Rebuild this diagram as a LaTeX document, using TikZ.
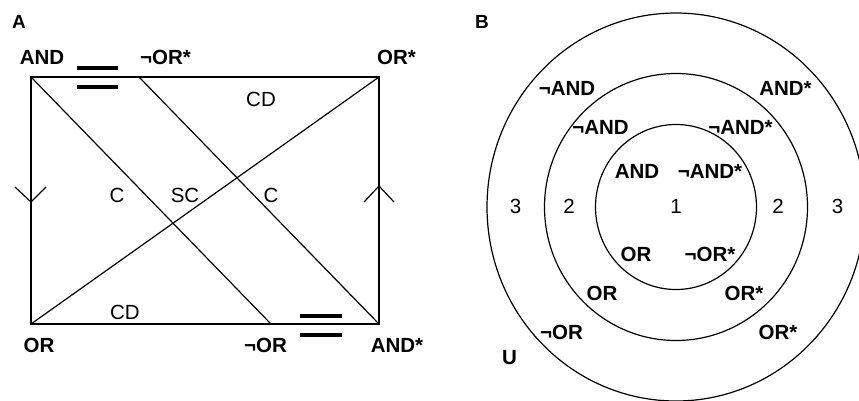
\documentclass[tikz,border=0pt]{standalone}
\usepackage{fontspec}
\setmainfont{Liberation Sans}
\begin{document}
\begin{tikzpicture}[x=1pt,y=-1pt,
  thinline/.style={line width=1.2pt,line cap=round,line join=miter},
  bar/.style={line width=4pt},
  lbl/.style={anchor=base,inner sep=0pt,font=\fontsize{20.5}{24}\selectfont\bfseries},
  rlbl/.style={anchor=base,inner sep=0pt,font=\fontsize{20.5}{24}\selectfont},
  panel/.style={anchor=base,inner sep=0pt,font=\fontsize{19}{22}\selectfont\bfseries}]
\clip (0,0) rectangle (859,400);
\fill[white] (0,0) rectangle (859,400);
% ---------- Panel A ----------
\coordinate (TL) at (31,77);
\coordinate (TR) at (379,77);
\coordinate (BL) at (31,324);
\coordinate (BR) at (379,324);
\coordinate (TM) at (139,77);
\coordinate (BM) at (271,324);
\draw[thinline] (TL) -- (TR) -- (BR) -- (BL) -- cycle;
\draw[thinline] (TL) -- (BM);
\draw[thinline] (TM) -- (BR);
\draw[thinline] (BL) -- (TR);
% direction marks
\coordinate (VL) at (31,202);
\coordinate (VLa) at (15,187);
\coordinate (VLb) at (46,187);
\draw[thinline] (VLa) -- (VL) -- (VLb);
\coordinate (VR) at (379,186);
\coordinate (VRa) at (364,202);
\coordinate (VRb) at (394,202);
\draw[thinline] (VRa) -- (VR) -- (VRb);
% equality bars
\coordinate (b1a) at (77,68.3);  \coordinate (b1b) at (118.3,68.3);
\coordinate (b2a) at (77,86.7);  \coordinate (b2b) at (118.3,86.7);
\draw[bar] (b1a) -- (b1b);
\draw[bar] (b2a) -- (b2b);
\coordinate (b3a) at (300,316.3); \coordinate (b3b) at (341.7,316.3);
\coordinate (b4a) at (300,335);   \coordinate (b4b) at (341.7,335);
\draw[bar] (b3a) -- (b3b);
\draw[bar] (b4a) -- (b4b);
% labels
\node[panel] (pA) at (19,28) {A};
\node[lbl] (lAND) at (42,64) {AND};
\node[lbl] (lnORs) at (165.5,64) {¬OR*};
\node[lbl] (lORs) at (396.5,64) {OR*};
\node[lbl] (lOR) at (39,352) {OR};
\node[lbl] (lnOR) at (265.5,352) {¬OR};
\node[lbl] (lANDs) at (397,352) {AND*};
\node[rlbl] (cd1) at (261,106) {CD};
\node[rlbl] (cd2) at (125,319) {CD};
\node[rlbl] (c1) at (117,202) {C};
\node[rlbl] (sc) at (185,202) {SC};
\node[rlbl] (c2) at (271,202) {C};
% ---------- Panel B ----------
\coordinate (O) at (676,207);
\draw[thinline] (O) ellipse [x radius=189, y radius=194];
\draw[thinline] (O) ellipse [x radius=131.5, y radius=133.5];
\draw[thinline] (O) ellipse [x radius=80.5, y radius=82.5];
\node[panel] (pB) at (482,28) {B};
\node[lbl] (o1) at (567,95) {¬AND};
\node[lbl] (o2) at (785.5,95) {AND*};
\node[lbl] (m1) at (600.5,134) {¬AND};
\node[lbl] (m2) at (740.5,134) {¬AND*};
\node[lbl] (i1) at (637,178) {AND};
\node[lbl] (i2) at (710,178) {¬AND*};
\node[rlbl] (n3l) at (515.5,213) {3};
\node[rlbl] (n2l) at (569,213) {2};
\node[rlbl] (n1) at (676,213) {1};
\node[rlbl] (n2r) at (778,213) {2};
\node[rlbl] (n3r) at (837.5,213) {3};
\node[lbl] (i3) at (636,261) {OR};
\node[lbl] (i4) at (710,261) {¬OR*};
\node[lbl] (m3) at (602,300) {OR};
\node[lbl] (m4) at (744,300) {OR*};
\node[lbl] (o3) at (561.5,339) {¬OR};
\node[lbl] (o4) at (778,339) {OR*};
\node[lbl] (u) at (509.5,364) {U};
\end{tikzpicture}
\end{document}
